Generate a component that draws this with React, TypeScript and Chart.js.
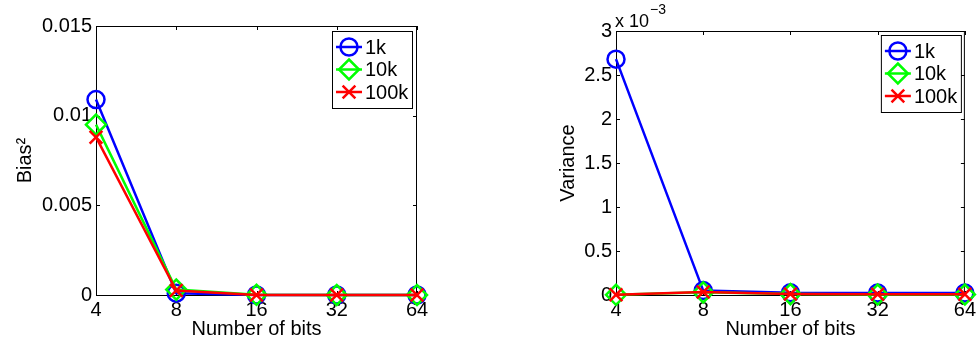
import React, { useEffect, useRef } from 'react';
import { Chart, registerables } from 'chart.js';

Chart.register(...registerables);

// ---- data ----
const bits = ['4', '8', '16', '32', '64'];
const seriesLabels = ['1k', '10k', '100k'];

const bias1k = [0.0109, 0.0001, 0, 0, 0];
const bias10k = [0.0095, 0.0003, 0.00001, 0, 0];
const bias100k = [0.0088, 0.00025, 0, 0, 0];
const biasTicks = [0, 0.005, 0.01, 0.015];

// variance in units of 10^-3
const var1k = [2.68, 0.05, 0.025, 0.022, 0.022];
const var10k = [0.002, 0.03, 0.01, 0.005, 0.005];
const var100k = [0.003, 0.035, 0.012, 0.008, 0.008];
const varTicks = [0, 0.5, 1, 1.5, 2, 2.5, 3];

// ---- styles ----
const COLORS = ['#0000ff', '#00ff00', '#ff0000'];
const STYLES = ['circle', 'rectRot', 'crossRot'];
const RADII = [8.5, 10, 9];
const FONT = '"Liberation Sans", Arial, Helvetica, sans-serif';

function drawMarker(ctx: CanvasRenderingContext2D, style: string, x: number, y: number, r: number) {
  ctx.beginPath();
  if (style === 'circle') {
    ctx.arc(x, y, r, 0, Math.PI * 2);
  } else if (style === 'rectRot') {
    ctx.moveTo(x, y - r);
    ctx.lineTo(x + r, y);
    ctx.lineTo(x, y + r);
    ctx.lineTo(x - r, y);
    ctx.closePath();
  } else {
    const d = r * Math.SQRT1_2;
    ctx.moveTo(x - d, y - d);
    ctx.lineTo(x + d, y + d);
    ctx.moveTo(x + d, y - d);
    ctx.lineTo(x - d, y + d);
  }
  ctx.stroke();
}

const matlabPlugin = {
  id: 'matlab',
  beforeDatasetsDraw(chart: any, _args: any, opts: any) {
    const { ctx, chartArea: a, scales } = chart;
    const xs = scales.x;
    const ys = scales.y;
    const T = 4;
    ctx.save();
    ctx.strokeStyle = '#000';
    ctx.lineWidth = 1;
    ctx.strokeRect(a.left + 0.5, a.top + 0.5, a.right - a.left - 1, a.bottom - a.top);
    ctx.beginPath();
    xs.ticks.forEach((_t: any, i: number) => {
      const px = Math.round(xs.getPixelForTick(i)) + 0.5;
      ctx.moveTo(px, a.bottom);
      ctx.lineTo(px, a.bottom - T);
      ctx.moveTo(px, a.top);
      ctx.lineTo(px, a.top + T);
    });
    ys.ticks.forEach((t: any) => {
      const py = Math.round(ys.getPixelForValue(t.value)) + 0.5;
      ctx.moveTo(a.left, py);
      ctx.lineTo(a.left + T, py);
      ctx.moveTo(a.right, py);
      ctx.lineTo(a.right - T, py);
    });
    ctx.stroke();
    ctx.restore();
  },
  afterDraw(chart: any, _args: any, opts: any) {
    const { ctx, chartArea: a } = chart;
    ctx.save();
    // legend
    const inset = opts.inset ?? 4;
    const bw = 80;
    const bh = 77;
    const bl = a.right - inset - bw;
    const bt = a.top + inset;
    ctx.fillStyle = '#fff';
    ctx.fillRect(bl, bt, bw, bh);
    ctx.strokeStyle = '#000';
    ctx.lineWidth = 1;
    ctx.strokeRect(bl + 0.5, bt + 0.5, bw, bh);
    chart.data.datasets.forEach((ds: any, i: number) => {
      const cy = bt + 16 + i * 22.5;
      ctx.strokeStyle = ds.borderColor;
      ctx.lineWidth = 2.5;
      ctx.beginPath();
      ctx.moveTo(bl + 4, cy);
      ctx.lineTo(bl + 30, cy);
      ctx.stroke();
      drawMarker(ctx, ds.pointStyle, bl + 17, cy, ds.pointRadius);
      ctx.fillStyle = '#000';
      ctx.font = `20px ${FONT}`;
      ctx.textAlign = 'left';
      ctx.textBaseline = 'middle';
      ctx.fillText(ds.label, bl + 33, cy + 1);
    });
    // multiplier
    if (opts.multiplier) {
      ctx.fillStyle = '#000';
      ctx.textAlign = 'left';
      ctx.textBaseline = 'alphabetic';
      ctx.font = `18px ${FONT}`;
      const base = 'x 10';
      ctx.fillText(base, a.left - 1, a.top - 4);
      const w = ctx.measureText(base).width;
      ctx.font = `14px ${FONT}`;
      ctx.fillText(opts.multiplier, a.left - 1 + w + 1, a.top - 17);
    }
    ctx.restore();
  },
};

function makeDatasets(series: number[][]) {
  return series.map((vals, i) => ({
    label: seriesLabels[i],
    data: vals,
    borderColor: COLORS[i],
    backgroundColor: 'rgba(0,0,0,0)',
    borderWidth: 2.5,
    pointStyle: STYLES[i],
    pointRadius: RADII[i],
    pointBorderWidth: 2.5,
    pointBorderColor: COLORS[i],
    pointBackgroundColor: 'rgba(0,0,0,0)',
    tension: 0,
    clip: false,
    order: 2 - i,
  }));
}

function makeConfig(p: {
  series: number[][];
  tickValues: number[];
  yMax: number;
  yTitle: string;
  yTitlePad: number;
  padTop: number;
  padRight: number;
  canvasH: number;
  bottom: number;
  left: number;
  inset: number;
  multiplier?: string;
  fmt: (v: number) => string;
}): any {
  return {
    type: 'line',
    data: { labels: bits, datasets: makeDatasets(p.series) },
    plugins: [matlabPlugin],
    options: {
      responsive: false,
      animation: false,
      devicePixelRatio: 1,
      layout: { padding: { left: 0, top: p.padTop, right: p.padRight, bottom: 0 } },
      plugins: {
        legend: { display: false },
        tooltip: { enabled: false },
        matlab: { inset: p.inset, multiplier: p.multiplier },
      },
      scales: {
        x: {
          type: 'category',
          offset: false,
          grid: { display: false, drawTicks: false },
          border: { display: false },
          ticks: {
            color: '#000',
            font: { family: FONT, size: 20 },
            padding: 3,
            maxRotation: 0,
            autoSkip: false,
          },
          title: {
            display: true,
            text: 'Number of bits',
            color: '#000',
            font: { family: FONT, size: 20 },
            padding: { top: 0, bottom: 0 },
          },
          afterFit: (s: any) => {
            s.height = p.canvasH - p.bottom;
          },
        },
        y: {
          type: 'linear',
          min: 0,
          max: p.yMax,
          grid: { display: false, drawTicks: false },
          border: { display: false },
          afterBuildTicks: (s: any) => {
            s.ticks = p.tickValues.map((v) => ({ value: v }));
          },
          ticks: {
            color: '#000',
            font: { family: FONT, size: 20 },
            padding: 4,
            callback: (v: any) => p.fmt(Number(v)),
          },
          title: {
            display: true,
            text: p.yTitle,
            color: '#000',
            font: { family: FONT, size: 20 },
            padding: { top: p.yTitlePad, bottom: 0 },
          },
          afterFit: (s: any) => {
            s.width = p.left;
          },
        },
      },
    },
  };
}

export default function App() {
  const leftRef = useRef<HTMLCanvasElement>(null);
  const rightRef = useRef<HTMLCanvasElement>(null);

  useEffect(() => {
    const H = 341;
    const c1 = new Chart(
      leftRef.current as HTMLCanvasElement,
      makeConfig({
        series: [bias1k, bias10k, bias100k],
        tickValues: biasTicks,
        yMax: 0.015,
        yTitle: 'Bias²',
        yTitlePad: 13,
        padTop: 26,
        padRight: 460 - 417,
        canvasH: H,
        bottom: 295,
        left: 96,
        inset: 5,
        fmt: (v) => String(Number(v.toFixed(4))),
      })
    );
    const c2 = new Chart(
      rightRef.current as HTMLCanvasElement,
      makeConfig({
        series: [var1k, var10k, var100k],
        tickValues: varTicks,
        yMax: 3,
        yTitle: 'Variance',
        yTitlePad: 36,
        padTop: 31,
        padRight: 459 - 446,
        canvasH: H,
        bottom: 295,
        left: 96,
        inset: 4,
        multiplier: '\u22123',
        fmt: (v) => String(Number(v.toFixed(2))),
      })
    );
    return () => {
      c1.destroy();
      c2.destroy();
    };
  }, []);

  return (
    <div style={{ position: 'absolute', left: 0, top: 0, width: 979, height: 341, background: '#fff' }}>
      <canvas ref={leftRef} width={460} height={341} style={{ position: 'absolute', left: 0, top: 0 }} />
      <canvas ref={rightRef} width={459} height={341} style={{ position: 'absolute', left: 520, top: 0 }} />
    </div>
  );
}
